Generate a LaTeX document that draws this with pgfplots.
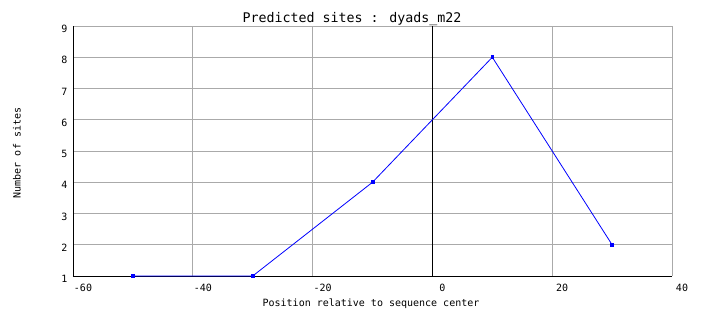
\documentclass[border=0pt]{standalone}
\usepackage{fontspec}
\setmainfont{DejaVu Sans Mono}
\usepackage{pgfplots}
\pgfplotsset{compat=1.18}
\definecolor{gridgray}{RGB}{170,170,170}
\begin{document}
\begin{tikzpicture}
\path[use as bounding box] (-73pt,-52pt) rectangle (631pt,276pt);
\begin{axis}[
  at={(0,0)}, anchor=south west,
  scale only axis, width=599pt, height=250pt,
  xmin=-62, xmax=38, ymin=1, ymax=9,
  axis x line*=bottom, axis y line*=left,
  axis line style={-, black, line width=0.8pt},
  xtick={-62,-42,-22,-2,18,38},
  xticklabels={-60,-40,-20,0,20,40},
  ytick={1,2,3,4,5,6,7,8,9},
  major tick length=0pt,
  grid=major,
  major grid style={gridgray, line width=0.8pt},
  xticklabel style={font=\fontsize{10}{12}\selectfont, xshift=10pt, yshift=-5pt},
  yticklabel style={font=\fontsize{10}{12}\selectfont, yshift=-3pt, xshift=-2pt},
  /pgf/number format/assume math mode=true,
  clip=false,
]
\addplot[black, line width=0.8pt] coordinates {(-2,1) (-2,9)};
\addplot[blue, line width=0.8pt, mark=square*, mark size=1.4pt, mark options={blue}]
  coordinates {(-52,1) (-32,1) (-12,4) (8,8) (28,2)};
\end{axis}
\node[font=\fontsize{13.3}{15}\selectfont] at (279pt,257pt) {Predicted sites : dyads\char`\_m22};
\node[font=\fontsize{10}{12}\selectfont] at (298pt,-28pt) {Position relative to sequence center};
\node[font=\fontsize{10}{12}\selectfont, rotate=90] at (-56pt,123pt) {Number of sites};
\end{tikzpicture}
\end{document}
